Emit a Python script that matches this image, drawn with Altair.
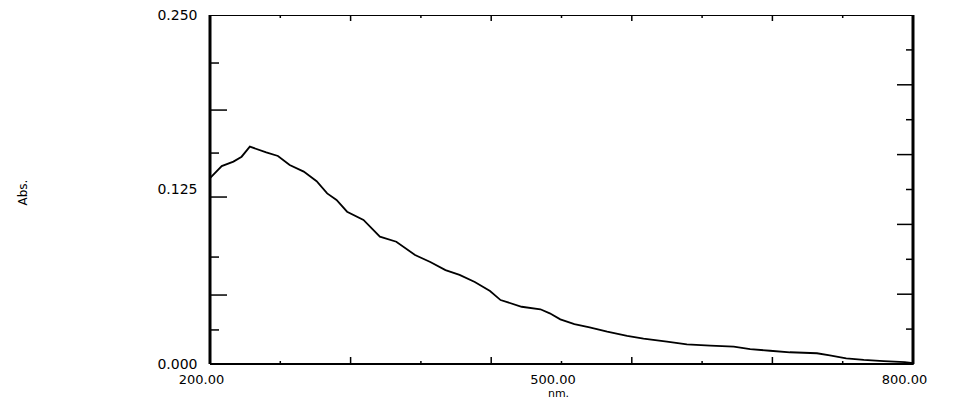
import altair as alt
import pandas as pd

# Spectrum
wavelength = [200, 210, 220, 227, 234, 248, 258, 268, 280, 291, 300, 308, 317, 331,
              345, 359, 375, 388, 401, 413, 426, 439, 448, 466, 482, 490, 499, 511,
              524, 539, 556, 570, 590, 607, 627, 647, 661, 678, 695, 718, 729, 743,
              758, 775, 793, 800]
absorbance = [0.1332, 0.1418, 0.1450, 0.1485, 0.1557, 0.1516, 0.1490, 0.1425, 0.1378,
              0.1309, 0.1222, 0.1175, 0.1091, 0.1032, 0.0912, 0.0876, 0.0781, 0.0731,
              0.0673, 0.0638, 0.0587, 0.0523, 0.0458, 0.0410, 0.0392, 0.0363, 0.0320,
              0.0286, 0.0263, 0.0232, 0.0201, 0.0181, 0.0160, 0.0141, 0.0131, 0.0124,
              0.0107, 0.0095, 0.0084, 0.0077, 0.0062, 0.0041, 0.0029, 0.0021, 0.0014,
              0.0007]

# Axis labels and tick marks
x_tick_labels = [200, 500, 800]
y_tick_labels = [0.0, 0.125, 0.25]
x_ticks_long = [320, 440, 560, 680]
x_ticks_short = [260, 380, 500, 620, 740]
y_left_long = [0.0494, 0.1196, 0.1819]
y_left_short = [0.0244, 0.0766, 0.1511, 0.2156]
y_right_long = [0.05, 0.10, 0.15, 0.20]
y_right_short = [0.025, 0.075, 0.125, 0.175, 0.225]

W, H = 703, 349
FONT = "DejaVu Sans"
xs = alt.Scale(domain=[200, 800], nice=False, zero=False)
ys = alt.Scale(domain=[0, 0.25], nice=False, zero=False)

line = alt.Chart(pd.DataFrame({"nm": wavelength, "abs": absorbance})).mark_line(
    color="black", strokeWidth=1.8
).encode(
    x=alt.X("nm:Q", scale=xs, axis=alt.Axis(
        values=x_tick_labels, format=".2f", ticks=False, domain=False, grid=False,
        labelFlush=False, labelOverlap=False, labelOffset=-9, labelPadding=15,
        labelBaseline="middle", labelFont=FONT, labelFontSize=13, labelColor="black",
        title="nm.", titleX=348, titleY=34, titleBaseline="bottom",
        titleAlign="center", titleFont=FONT, titleFontSize=11,
        titleFontWeight="normal", titleColor="black")),
    y=alt.Y("abs:Q", scale=ys, axis=alt.Axis(
        values=y_tick_labels, format=".3f", ticks=False, domain=False, grid=False,
        labelFlush=False, labelOverlap=False, labelPadding=13,
        labelFont=FONT, labelFontSize=14, labelColor="black",
        title="Abs.", titleX=-188, titleY=177, titleAngle=270,
        titleBaseline="middle", titleAlign="center", titleFont=FONT,
        titleFontSize=12, titleFontWeight="normal", titleColor="black")),
)


def vticks(vals, y0, y1):
    return alt.Chart(pd.DataFrame({"t": vals})).mark_rule(
        color="black", strokeWidth=1.5
    ).encode(x=alt.X("t:Q", scale=xs, axis=None), y=alt.value(y0), y2=alt.value(y1))


def hticks(vals, x0, x1):
    return alt.Chart(pd.DataFrame({"t": vals})).mark_rule(
        color="black", strokeWidth=1.5
    ).encode(y=alt.Y("t:Q", scale=ys, axis=None), x=alt.value(x0), x2=alt.value(x1))


one = pd.DataFrame({"a": [0]})
left_frame = alt.Chart(one).mark_rule(color="black", strokeWidth=3).encode(
    x=alt.X(datum=200, scale=xs, axis=None))
right_frame = alt.Chart(one).mark_rule(color="black", strokeWidth=3).encode(
    x=alt.X(datum=800, scale=xs, axis=None))
bottom_frame = alt.Chart(one).mark_rule(color="black", strokeWidth=2).encode(
    y=alt.Y(datum=0, scale=ys, axis=None))

chart = alt.layer(
    line,
    vticks(x_ticks_long, H, H - 7),
    vticks(x_ticks_short, H, H - 3),
    vticks(x_ticks_long, 0, 6),
    vticks(x_ticks_short, 0, 3),
    hticks(y_left_long, 0, 17),
    hticks(y_left_short, 0, 9),
    hticks(y_right_long, W - 16, W),
    hticks(y_right_short, W - 7, W),
    left_frame,
    right_frame,
    bottom_frame,
).resolve_axis(
    x="independent", y="independent"
).properties(
    width=W, height=H,
    autosize=alt.AutoSizeParams(type="none"),
    padding={"left": 202, "top": 7, "right": 30, "bottom": 34},
).configure(font=FONT).configure_view(stroke="black", strokeWidth=1)

chart.save("out.html", embed_options={"renderer": "svg", "actions": False})
